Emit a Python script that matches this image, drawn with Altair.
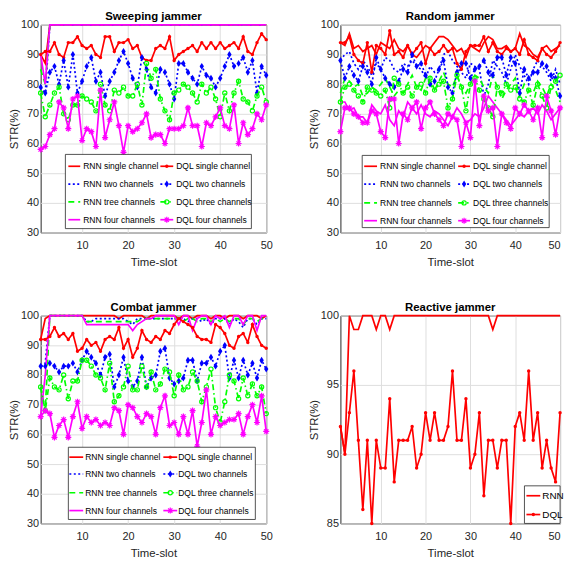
import altair as alt
import pandas as pd

T = list(range(1, 51))

LABELS = ["RNN single channel", "RNN two channels", "RNN tree channels", "RNN four channels",
          "DQL single channel", "DQL two channels", "DQL three channels", "DQL four channels"]

# ---------------- Sweeping jammer ----------------
sw_rnn1 = [90, 87, 100, 100, 100, 100, 100, 100, 100, 100,
           100, 100, 100, 100, 100, 100, 100, 100, 100, 100,
           100, 100, 100, 100, 100, 100, 100, 100, 100, 100,
           100, 100, 100, 100, 100, 100, 100, 100, 100, 100,
           100, 100, 100, 100, 100, 100, 100, 100, 100, 100]
sw_rnn2 = [79, 77, 100, 100, 100, 100, 100, 100, 100, 100,
           100, 100, 100, 100, 100, 100, 100, 100, 100, 100,
           100, 100, 100, 100, 100, 100, 100, 100, 100, 100,
           100, 100, 100, 100, 100, 100, 100, 100, 100, 100,
           100, 100, 100, 100, 100, 100, 100, 100, 100, 100]
sw_rnn3 = [85, 80, 100, 100, 100, 100, 100, 100, 100, 100,
           100, 100, 100, 100, 100, 100, 100, 100, 100, 100,
           100, 100, 100, 100, 100, 100, 100, 100, 100, 100,
           100, 100, 100, 100, 100, 100, 100, 100, 100, 100,
           100, 100, 100, 100, 100, 100, 100, 100, 100, 100]
sw_rnn4 = [90, 80, 100, 100, 100, 100, 100, 100, 100, 100,
           100, 100, 100, 100, 100, 100, 100, 100, 100, 100,
           100, 100, 100, 100, 100, 100, 100, 100, 100, 100,
           100, 100, 100, 100, 100, 100, 100, 100, 100, 100,
           100, 100, 100, 100, 100, 100, 100, 100, 100, 100]
sw_dql1 = [90, 91, 91, 94, 90, 89, 94, 94, 96, 93,
           92, 93, 90, 89, 96, 96, 91, 94, 94, 95,
           92, 93, 89, 88, 88, 92, 93, 92, 96, 88,
           90, 91, 92, 93, 91, 94, 92, 94, 92, 94,
           92, 93, 94, 92, 96, 91, 90, 94, 97, 95]
sw_dql2 = [79, 77, 84, 86, 80, 88, 79, 90, 77, 81,
           86, 89, 81, 84, 76, 81, 84, 88, 91, 87,
           82, 79, 89, 85, 79, 77, 85, 84, 80, 75,
           87, 87, 84, 82, 80, 86, 83, 82, 79, 82,
           86, 90, 86, 87, 89, 84, 88, 77, 86, 83]
sw_dql3 = [77, 69, 73, 77, 79, 70, 68, 73, 73, 76,
           75, 74, 71, 80, 73, 71, 78, 77, 79, 76,
           76, 80, 73, 87, 82, 85, 75, 71, 68, 77,
           78, 80, 79, 77, 74, 80, 77, 79, 75, 69,
           77, 71, 77, 81, 75, 74, 71, 76, 79, 74]
sw_dql4 = [58, 59, 63, 65, 74, 72, 65, 75, 76, 61,
           65, 64, 59, 78, 62, 68, 74, 66, 57, 66,
           64, 65, 67, 70, 62, 63, 63, 60, 65, 65,
           65, 66, 72, 66, 66, 59, 67, 66, 69, 72,
           66, 65, 73, 60, 67, 63, 65, 70, 68, 73]

# ---------------- Random jammer ----------------
ra_rnn1 = [94, 93, 97, 92, 93, 91, 92, 93, 90, 94,
           93, 92, 95, 92, 91, 93, 90, 89, 91, 93,
           92, 94, 96, 96, 95, 93, 91, 92, 89, 93,
           92, 91, 94, 96, 95, 92, 92, 93, 91, 92,
           97, 93, 92, 90, 89, 92, 93, 91, 92, 93]
ra_rnn2 = [88, 90, 91, 87, 85, 88, 86, 83, 87, 85,
           89, 88, 85, 84, 87, 86, 88, 86, 85, 82,
           86, 84, 85, 90, 91, 88, 86, 84, 82, 87,
           86, 85, 76, 80, 88, 86, 84, 80, 85, 90,
           86, 83, 80, 85, 88, 86, 84, 81, 85, 80]
ra_rnn3 = [77, 82, 81, 79, 80, 76, 77, 79, 78, 80,
           82, 79, 76, 78, 77, 80, 83, 79, 78, 82,
           80, 78, 81, 84, 80, 79, 83, 79, 77, 80,
           83, 82, 79, 77, 83, 79, 75, 78, 80, 82,
           76, 80, 78, 77, 81, 79, 76, 80, 78, 74]
ra_rnn4 = [74, 74, 71, 72, 69, 69, 67, 73, 71, 70,
           73, 68, 66, 71, 69, 74, 72, 70, 73, 70,
           69, 71, 70, 68, 66, 69, 72, 70, 67, 68,
           70, 69, 72, 76, 74, 72, 70, 68, 66, 68,
           70, 69, 71, 72, 70, 73, 71, 68, 70, 72]
ra_dql1 = [94, 94, 96, 90, 88, 87, 94, 84, 93, 92,
           90, 98, 90, 91, 89, 93, 90, 92, 94, 87,
           92, 90, 91, 93, 91, 92, 87, 85, 91, 93,
           93, 93, 96, 91, 94, 91, 90, 92, 91, 92,
           90, 95, 90, 89, 88, 92, 90, 89, 91, 94]
ra_dql2 = [88, 82, 86, 83, 81, 86, 84, 80, 89, 85,
           82, 80, 79, 81, 85, 84, 90, 86, 87, 83,
           80, 81, 85, 88, 79, 77, 84, 87, 87, 82,
           85, 86, 88, 84, 83, 89, 89, 83, 89, 87,
           77, 85, 82, 84, 84, 87, 86, 83, 82, 76]
ra_dql3 = [74, 79, 80, 78, 76, 74, 79, 78, 77, 76,
           78, 72, 82, 80, 77, 79, 76, 79, 80, 77,
           82, 78, 80, 81, 72, 75, 83, 79, 71, 80,
           82, 78, 75, 72, 69, 79, 77, 80, 78, 79,
           75, 74, 78, 73, 80, 76, 72, 79, 81, 83]
ra_dql4 = [64, 72, 72, 70, 69, 67, 67, 71, 70, 64,
           62, 75, 75, 60, 70, 68, 72, 74, 65, 72,
           74, 70, 68, 66, 70, 69, 68, 59, 67, 62,
           81, 66, 76, 71, 72, 59, 70, 67, 65, 72,
           70, 73, 71, 68, 72, 62, 76, 71, 63, 72]

# ---------------- Combat jammer ----------------
co_rnn1 = [92, 99, 100, 100, 100, 100, 100, 100, 100, 100,
           100, 100, 100, 100, 100, 100, 100, 99, 100, 100,
           100, 100, 100, 99, 100, 100, 100, 100, 100, 100,
           99, 100, 100, 99, 100, 100, 100, 99, 100, 100,
           99, 100, 100, 100, 99, 100, 100, 100, 99, 100]
co_rnn2 = [83, 84, 100, 100, 100, 100, 100, 100, 100, 100,
           98, 98, 99, 99, 99, 99, 99, 99, 99, 98,
           97, 99, 99, 99, 99, 99, 99, 99, 99, 99,
           99, 99, 98, 99, 99, 98, 99, 97, 99, 99,
           99, 97, 99, 98, 96, 99, 99, 97, 99, 99]
co_rnn3 = [76, 68, 100, 100, 100, 100, 100, 100, 100, 100,
           98, 98, 98, 98, 98, 98, 98, 98, 98, 98,
           98, 98, 99, 99, 99, 99, 99, 99, 99, 99,
           99, 98, 99, 99, 98, 99, 99, 98, 99, 98,
           99, 98, 99, 99, 97, 99, 99, 98, 99, 99]
co_rnn4 = [66, 80, 100, 100, 100, 100, 100, 100, 100, 100,
           97, 97, 97, 97, 97, 97, 97, 97, 97, 97,
           95, 97, 98, 99, 99, 100, 100, 100, 100, 100,
           97, 100, 100, 95, 99, 100, 100, 97, 100, 99,
           100, 96, 100, 100, 97, 100, 100, 95, 100, 100]
co_dql1 = [92, 92, 93, 96, 93, 94, 92, 94, 88, 89,
           92, 90, 91, 88, 92, 93, 92, 96, 89, 92,
           86, 89, 95, 92, 91, 93, 92, 95, 94, 97,
           99, 98, 97, 96, 93, 92, 92, 91, 97, 96,
           94, 90, 89, 93, 94, 91, 97, 93, 90, 89]
co_dql2 = [83, 83, 84, 83, 81, 83, 83, 84, 81, 85,
           88, 86, 84, 80, 86, 87, 76, 80, 86, 78,
           76, 78, 86, 76, 79, 80, 88, 89, 79, 77,
           78, 79, 85, 85, 78, 84, 84, 86, 83, 88,
           90, 79, 85, 79, 85, 80, 84, 79, 85, 82]
co_dql3 = [76, 68, 79, 76, 75, 80, 72, 78, 78, 85,
           85, 83, 80, 79, 75, 84, 71, 73, 76, 83,
           75, 75, 83, 76, 81, 75, 77, 82, 81, 73,
           80, 75, 76, 81, 78, 71, 76, 82, 69, 64,
           71, 80, 78, 72, 79, 73, 77, 73, 76, 67]
co_dql4 = [66, 68, 67, 59, 63, 65, 59, 66, 71, 62,
           66, 64, 65, 63, 64, 63, 69, 68, 60, 70,
           69, 66, 64, 67, 66, 60, 69, 73, 63, 64,
           60, 66, 60, 68, 56, 64, 75, 60, 66, 63,
           64, 65, 65, 67, 60, 66, 70, 64, 73, 61]

# ---------------- Reactive jammer ----------------
re_rnn = [92, 90, 100, 99, 99, 100, 100, 100, 99, 100,
          100, 99, 100, 100, 100, 100, 100, 100, 100, 100,
          100, 100, 100, 100, 100, 100, 100, 100, 100, 100,
          100, 100, 100, 100, 99, 100, 100, 100, 100, 100,
          100, 100, 100, 100, 100, 100, 100, 100, 100, 100]
re_dql = [92, 90, 93, 96, 91, 86, 91, 85, 91, 89,
          89, 94, 88, 91, 91, 91, 92, 89, 90, 93,
          91, 93, 91, 91, 92, 96, 91, 91, 94, 89,
          90, 93, 87, 91, 91, 89, 91, 91, 85, 92,
          93, 91, 96, 91, 93, 89, 91, 89, 88, 93]

FONT = "Liberation Sans, Arial, Helvetica, sans-serif"
RED, BLUE, GREEN, MAG = "#ff0000", "#0000ff", "#00ff00", "#ff00ff"
ASTERISK = "M-1,0L1,0M0,-1L0,1M-0.7,-0.7L0.7,0.7M-0.7,0.7L0.7,-0.7"
DIAMOND = "M0,-1.2L0.75,0L0,1.2L-0.75,0Z"

STYLE = {
    "RNN single channel": dict(color=RED, dash=None, marker=None),
    "RNN two channels": dict(color=BLUE, dash=[2, 2.5], marker=None),
    "RNN tree channels": dict(color=GREEN, dash=[6, 4], marker=None),
    "RNN four channels": dict(color=MAG, dash=None, marker=None),
    "DQL single channel": dict(color=RED, dash=None, marker=("circle", True, 12)),
    "DQL two channels": dict(color=BLUE, dash=[2, 2.5], marker=(DIAMOND, True, 34)),
    "DQL three channels": dict(color=GREEN, dash=[6, 3, 1.5, 3], marker=("circle", False, 18)),
    "DQL four channels": dict(color=MAG, dash=None, marker=(ASTERISK, False, 38)),
    "RNN": dict(color=RED, dash=None, marker=None),
    "DQL": dict(color=RED, dash=None, marker=("circle", True, 12)),
}
LW = 1.7
H = 210
WL, WR = 228, 222


def legend_layers(lg):
    one = alt.Chart(pd.DataFrame({"k": [0]}))
    x0, y0, x1, y1 = lg["box"]
    out = [one.mark_rect(fill="white", stroke="#262626", strokeWidth=0.8).encode(
        x=alt.value(x0), x2=alt.value(x1), y=alt.value(y0), y2=alt.value(y1))]
    for name, (la, lb, tx), yy in lg["items"]:
        st = STYLE[name]
        kw = dict(color=st["color"], strokeWidth=LW)
        if st["dash"]:
            kw["strokeDash"] = st["dash"]
        out.append(one.mark_rule(**kw).encode(x=alt.value(la), x2=alt.value(lb), y=alt.value(yy)))
        if st["marker"]:
            shape, filled, size = st["marker"]
            out.append(one.mark_point(shape=shape, filled=filled, size=size, color=st["color"],
                                      strokeWidth=1.2, opacity=1).encode(
                x=alt.value((la + lb) / 2), y=alt.value(yy)))
        out.append(one.mark_text(align="left", baseline="middle", font=FONT,
                                 fontSize=lg["fs"], color="black").encode(
            x=alt.value(tx), y=alt.value(yy), text=alt.value(name)))
    return out


def main_legend(box, rows, c1, c2, fs=8.6):
    items = []
    for i in range(4):
        items.append((LABELS[i], c1, rows[i]))
        items.append((LABELS[4 + i], c2, rows[i]))
    return dict(box=box, items=items, fs=fs)


def panel(title, names, data, ydom, yticks, width, legend, flush):
    frames = []
    for name, vals in zip(names, data):
        assert len(vals) == 50, (title, name, len(vals))
        frames.append(pd.DataFrame({"t": T, "v": vals, "s": name}))
    df = pd.concat(frames, ignore_index=True)
    x = alt.X("t:Q", scale=alt.Scale(domain=[1, 50], nice=False, zero=False),
              axis=alt.Axis(values=[10, 20, 30, 40, 50], title="Time-slot", labelFlush=flush))
    y = alt.Y("v:Q", scale=alt.Scale(domain=ydom, nice=False, zero=False),
              axis=alt.Axis(values=yticks, title="STR(%)"))
    base = alt.Chart(df)
    layers = []
    for name in names:
        st = STYLE[name]
        sub = base.transform_filter(alt.datum.s == name)
        kw = dict(color=st["color"], strokeWidth=LW)
        if st["dash"]:
            kw["strokeDash"] = st["dash"]
        layers.append(sub.mark_line(**kw).encode(x=x, y=y))
        if st["marker"]:
            shape, filled, size = st["marker"]
            layers.append(sub.mark_point(shape=shape, filled=filled, size=size, color=st["color"],
                                         strokeWidth=1.2, opacity=1).encode(x=x, y=y))
    layers += legend_layers(legend)
    return alt.layer(*layers).properties(width=width, height=H, title=title)


Y1 = [30, 40, 50, 60, 70, 80, 90, 100]

sweep = panel("Sweeping jammer", LABELS,
              [sw_rnn1, sw_rnn2, sw_rnn3, sw_rnn4, sw_dql1, sw_dql2, sw_dql3, sw_dql4],
              [30, 100], Y1, WL,
              main_legend((25, 131, 213, 206), [143, 161, 179, 197], (28, 40, 43), (121, 134, 137)),
              False)
rand = panel("Random jammer", LABELS,
             [ra_rnn1, ra_rnn2, ra_rnn3, ra_rnn4, ra_dql1, ra_dql2, ra_dql3, ra_dql4],
             [30, 100], Y1, WR,
             main_legend((22, 132, 211, 205), [143, 161, 180, 198], (24, 37, 40), (119, 131, 134)),
             True)
combat = panel("Combat jammer", LABELS,
               [co_rnn1, co_rnn2, co_rnn3, co_rnn4, co_dql1, co_dql2, co_dql3, co_dql4],
               [30, 100], Y1, WL,
               main_legend((28, 133, 217, 206), [143, 160, 179, 197], (29, 43, 45), (124, 138, 139)),
               False)
react = panel("Reactive jammer", ["RNN", "DQL"], [re_rnn, re_dql],
              [85, 100], [85, 90, 95, 100], WR,
              dict(box=(186, 172, WR, H),
                   items=[("RNN", (188, 202, 204), 182), ("DQL", (188, 202, 204), 201)], fs=10),
              True)

top = alt.hconcat(sweep, rand, spacing=35)
bottom = alt.hconcat(combat, react, spacing=35)
chart = alt.vconcat(top, bottom, spacing=34).properties(
    padding={"left": 0, "top": 0, "right": 0, "bottom": 0}
).configure(font=FONT).configure_view(
    stroke="#262626", strokeWidth=1
).configure_axis(
    domain=False, ticks=False, grid=True, gridColor="#dedede", gridWidth=1,
    labelFont=FONT, labelFontSize=11, labelColor="#262626",
    titleFont=FONT, titleFontSize=11.5, titleFontWeight="normal", titleColor="#262626"
).configure_axisX(labelPadding=7, titlePadding=6).configure_axisY(
    labelPadding=2, titlePadding=1
).configure_title(
    font=FONT, fontSize=11.5, fontWeight="bold", color="black", anchor="middle", frame="group", offset=-4
)

chart.save("out.html", embed_options={"renderer": "svg", "actions": False})
